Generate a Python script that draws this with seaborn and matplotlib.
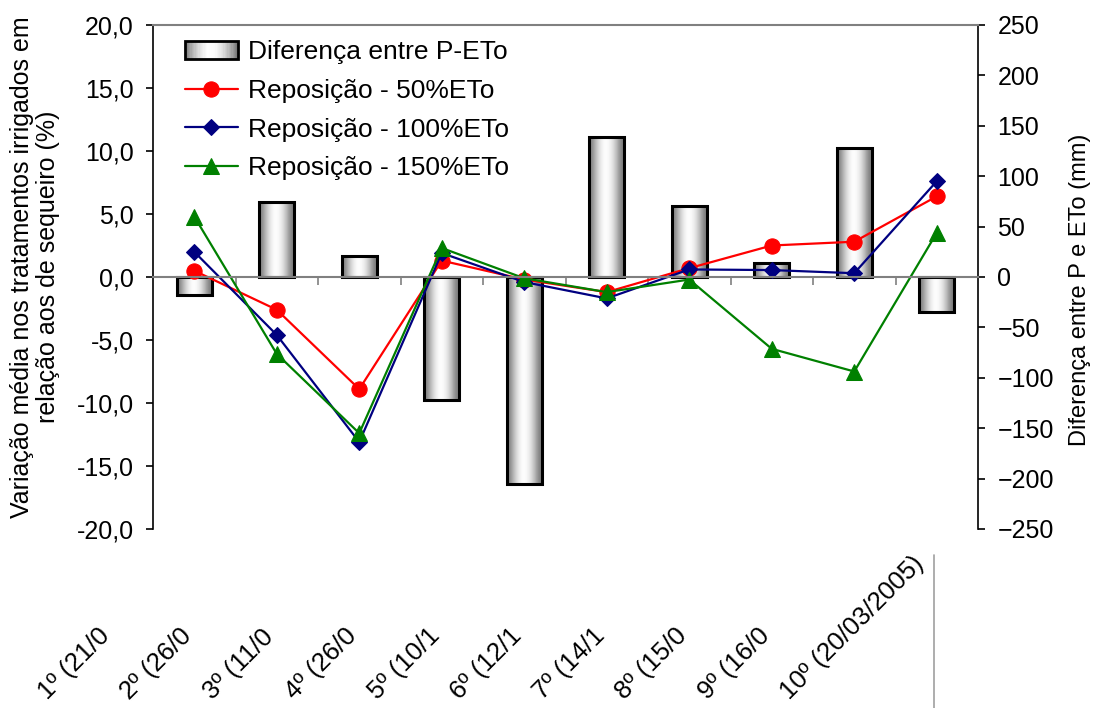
# Variação média nos tratamentos irrigados x diferença P-ETo
import numpy as np
import matplotlib
matplotlib.use("Agg")
import matplotlib.pyplot as plt
import seaborn as sns
from matplotlib.patches import Patch, Rectangle
from matplotlib.lines import Line2D

# -------------------------------
# DADOS
# -------------------------------
rodadas = ["1º (21/0", "2º (26/0", "3º (11/0", "4º (26/0", "5º (10/1",
           "6º (12/1", "7º (14/1", "8º (15/0", "9º (16/0", "10º (20/03/2005)"]

dif_p_eto = [-18, 74, 21, -122, -205, 139, 70, 14, 128, -35]          # mm

rep_50 = [0.5, -2.6, -8.9, 1.3, -0.2, -1.2, 0.7, 2.5, 2.8, 6.4]        # %
rep_100 = [2.0, -4.6, -13.1, 1.9, -0.4, -1.7, 0.6, 0.55, 0.3, 7.6]
rep_150 = [4.8, -6.1, -12.4, 2.3, -0.1, -1.2, -0.2, -5.7, -7.5, 3.5]

# -------------------------------
# ESTILO
# -------------------------------
sns.set_style("white")
plt.rcParams['font.family'] = ['Liberation Sans', 'DejaVu Sans']
for k in ['text.color', 'axes.labelcolor', 'xtick.color', 'ytick.color']:
    plt.rcParams[k] = 'black'
FS_TICK = 18
FS_LEG = 19

grad = np.array([[0.5, 0.72, 0.9, 1.0, 0.98, 0.88, 0.7, 0.48]])


class GradHandler:
    # retângulo com degradê (efeito cilindro) para a legenda das barras
    def legend_artist(self, legend, orig_handle, fontsize, handlebox):
        x0, y0 = -handlebox.xdescent, -handlebox.ydescent
        w, h = handlebox.width, handlebox.height
        n = 40
        vals = np.interp(np.linspace(0, 1, n), np.linspace(0, 1, grad.shape[1]), grad[0])
        tr = handlebox.get_transform()
        for k, v in enumerate(vals):
            handlebox.add_artist(Rectangle((x0 + k * w / n, y0), w / n + 0.3, h,
                                           facecolor=str(v), edgecolor='none',
                                           transform=tr))
        box = Rectangle((x0, y0), w, h, facecolor='none', edgecolor='black',
                        linewidth=2, transform=tr)
        handlebox.add_artist(box)
        return box


fig = plt.figure(figsize=(10.94, 7.08), dpi=100)
ax = fig.add_axes([153/1094, 1-529/708, (978-153)/1094, (529-25)/708])
ax2 = ax.twinx()

# -------------------------------
# BARRAS (eixo direito)
# -------------------------------
sns.barplot(x=rodadas, y=dif_p_eto, ax=ax2, color='white', width=0.42,
            edgecolor='black', linewidth=2.2)

for p in ax2.patches:
    x0, y0 = p.get_xy()
    w, h = p.get_width(), p.get_height()
    ax2.imshow(grad, extent=[x0, x0 + w, min(y0, y0 + h), max(y0, y0 + h)],
               cmap='gray', vmin=0, vmax=1, aspect='auto',
               interpolation='bicubic', zorder=1)
    p.set_facecolor('none')
    p.set_zorder(2)

ax2.set_ylim(-250, 250)
ax2.set_yticks(np.arange(-250, 251, 50))
ax2.set_xlim(-0.5, 9.5)

# -------------------------------
# LINHAS (eixo esquerdo)
# -------------------------------
pos = np.arange(len(rodadas))
sns.lineplot(x=pos, y=rep_50, ax=ax, color='#FF0000', marker='o',
             markersize=11, markeredgecolor='#FF0000', linewidth=1.6,
             label='Reposição - 50%ETo')
sns.lineplot(x=pos, y=rep_100, ax=ax, color='#000080', marker='D',
             markersize=8, markeredgecolor='#000080', linewidth=1.6,
             label='Reposição - 100%ETo')
sns.lineplot(x=pos, y=rep_150, ax=ax, color='#008000', marker='^',
             markersize=11, markeredgecolor='#008000', linewidth=1.6,
             label='Reposição - 150%ETo')

ax.set_zorder(ax2.get_zorder() + 1)
ax.patch.set_visible(False)

ax.set_ylim(-20, 20)
ax.set_yticks(np.arange(-20, 21, 5))
ax.set_yticklabels([f"{v:.1f}".replace('.', ',') for v in np.arange(-20, 21, 5)])
ax.set_xlim(-0.5, 9.5)

# eixo das categorias no zero
ax.spines['bottom'].set_position(('data', 0))
ax.spines['bottom'].set_color('#808080')
ax.spines['bottom'].set_linewidth(1.5)
ax.spines['top'].set_color('#808080')
ax.spines['top'].set_linewidth(1.5)
ax.spines['right'].set_visible(False)
ax.spines['left'].set_color('black')
ax.spines['left'].set_linewidth(1.2)
for s in ['top', 'left', 'bottom']:
    ax2.spines[s].set_visible(False)
ax2.spines['right'].set_color('black')
ax2.spines['right'].set_linewidth(1.2)

ax.set_xticks(pos)
ax.set_xticklabels([])
ax.set_xticks(np.arange(0.5, 9, 1), minor=True)
ax.tick_params(axis='x', which='major', length=0)
ax.tick_params(axis='x', which='minor', length=6, width=1.2, color='#808080',
               direction='out', bottom=True)
ax.tick_params(axis='y', length=5, width=1.2, direction='out', left=True,
               labelsize=FS_TICK, pad=9)
ax2.tick_params(axis='y', length=5, width=1.2, direction='out', right=True,
                labelsize=FS_TICK, pad=9)
ax.set_xlabel('')
ax.set_ylabel('')
ax2.set_ylabel('')

# rótulos das rodadas (inclinados)
for i, txt in enumerate(rodadas):
    ax.annotate(txt, xy=(i, 0), xycoords=('data', 'axes fraction'),
                xytext=(-147, -171), textcoords='offset pixels',
                rotation=45, rotation_mode='anchor', ha='left',
                va='baseline', fontsize=18.5, color='black',
                annotation_clip=False)

# títulos dos eixos
fig.text(35/1094, 1-267/708,
         "Variação média nos tratamentos irrigados em\nrelação aos de sequeiro (%)",
         rotation=90, ha='center', va='center', fontsize=18,
         multialignment='center', linespacing=1.1)
fig.text(1080/1094, 1-290/708, "Diferença entre P e ETo (mm)",
         rotation=90, ha='center', va='center', fontsize=17)

# traço vertical à direita dos rótulos
fig.add_artist(Line2D([934/1094, 934/1094], [0, 1-555/708],
                      transform=fig.transFigure, color='#a0a0a0', lw=1.2))

# -------------------------------
# LEGENDA
# -------------------------------
h_lin, l_lin = ax.get_legend_handles_labels()
h_bar = Patch(facecolor='#cfcfcf', edgecolor='black', linewidth=2)
ax.legend([h_bar] + h_lin, ['Diferença entre P-ETo'] + l_lin,
          loc='upper left', bbox_to_anchor=(185/1094, 1-40/708),
          bbox_transform=fig.transFigure, frameon=False, fontsize=FS_LEG,
          handlelength=2.0, handletextpad=0.4, labelspacing=0.56,
          borderpad=0, borderaxespad=0,
          handler_map={Patch: GradHandler()})

plt.savefig("out.png", dpi=100)
